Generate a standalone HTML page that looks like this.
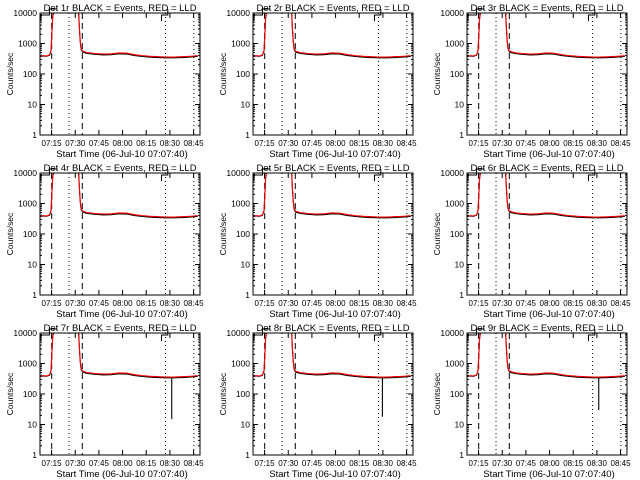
<!DOCTYPE html>
<html><head><meta charset="utf-8"><style>
html,body{margin:0;padding:0;background:#fff;}
svg{display:block;font-family:"Liberation Sans",sans-serif;}
</style></head><body>
<svg id="chart" width="640" height="480" viewBox="0 0 640 480"></svg>
<script>
// data
const detectors = ["1r","2r","3r","4r","5r","6r","7r","8r","9r"];
const times = [0,2,4,6,7,7.5,8,8.5,9,24.5,25,25.5,26,27,30,35,40,45,50,55,60,65,70,75,80,85,90,95,100];
const lldCounts = [380,400,390,420,600,2000,7000,12000,14000,14000,3000,1200,700,560,500,470,450,460,490,480,430,400,380,370,360,360,370,380,400];
const evtCounts = [370,390,380,410,580,1900,6800,12000,14000,14000,2900,1150,660,520,470,440,420,430,460,450,400,375,355,345,340,340,345,360,380];
const dipTime = [null,null,null,null,null,null,83.5,82,83.5];
const dipValue = [null,null,null,null,null,null,15,18,30];
const dashedTimes = [7.4,26.8];
const dottedTimes = [18.4,79.5,97.5];
const xTickLabels = ["07:15","07:30","07:45","08:00","08:15","08:30","08:45"];
const xTickMinutes = [7.33,22.33,37.33,52.33,67.33,82.33,97.33];
const yTickValues = [1,10,100,1000,10000];
const yTickLabels = ["1","10","100","1000","10000"];

const NS="http://www.w3.org/2000/svg";
const svg=document.getElementById('chart');
function mk(tag,attrs,parent){const e=document.createElementNS(NS,tag);for(const k in attrs)e.setAttribute(k,attrs[k]);(parent||svg).appendChild(e);return e;}
const BX0=40,BX1=200,BY0=13,BY1=135,TMAX=101.4;
detectors.forEach((d,i)=>{
  const ox=[0,213,427][i%3], oy=[0,160,320][Math.floor(i/3)];
  const g=mk('g',{transform:`translate(${ox},${oy})`});
  
  
  const X=t=>BX0+t/TMAX*(BX1-BX0);
  const Y=v=>{v=Math.max(1,Math.min(v,10000*1.02));return BY1-Math.log10(v)/4*(BY1-BY0);};
  const clip='clip'+i;
  const cp=mk('clipPath',{id:clip},g);mk('rect',{x:BX0,y:BY0,width:BX1-BX0,height:BY1-BY0},cp);
  dashedTimes.forEach(t=>{const l=mk('line',{x1:X(t),x2:X(t),y1:BY0,y2:BY1,stroke:'#000','stroke-dasharray':'6,4'},g);});
  dottedTimes.forEach(t=>{const l=mk('line',{x1:X(t),x2:X(t),y1:BY0,y2:BY1,stroke:'#000','stroke-dasharray':'1,3'},g);});
  let ev=times.map((t,k)=>[t,evtCounts[k]]);
  if(dipTime[i]!==null){ev=ev.filter(p=>p[0]<dipTime[i]);ev.push([dipTime[i],340],[dipTime[i],dipValue[i]],[dipTime[i],340]);times.forEach((t,k)=>{if(t>dipTime[i])ev.push([t,evtCounts[k]]);});}
  const pe=mk('polyline',{points:ev.map(p=>X(p[0])+','+Y(p[1])).join(' '),fill:'none',stroke:'#000','stroke-width':1.1,'clip-path':`url(#${clip})`},g);
  
  const pl=mk('polyline',{points:times.map((t,k)=>X(t)+','+Y(lldCounts[k])).join(' '),fill:'none',stroke:'#f00','stroke-width':1.1,'clip-path':`url(#${clip})`},g);
  
  const b1=mk('polyline',{points:`${X(0.5)},${BY0+8} ${X(0.5)},${BY0+2} ${X(6)},${BY0+2} ${X(6)},${BY0-4} ${X(11)},${BY0-4}`,fill:'none',stroke:'#000'},g);
  
  const b2=mk('polyline',{points:`${X(77)},${BY0+8} ${X(77)},${BY0+2} ${X(81)},${BY0+2} ${X(81)},${BY0-4}`,fill:'none',stroke:'#000'},g);
  
  const box=mk('rect',{x:BX0,y:BY0,width:BX1-BX0,height:BY1-BY0,fill:'none',stroke:'#000'},g);
  
  yTickValues.forEach((v,k)=>{
    const y=Y(v);
    mk('line',{x1:BX0,x2:BX0+5,y1:y,y2:y,stroke:'#000'},g);mk('line',{x1:BX1,x2:BX1-5,y1:y,y2:y,stroke:'#000'},g);
    for(let m=2;m<10&&v<10000;m++){const ym=Y(v*m);mk('line',{x1:BX0,x2:BX0+2,y1:ym,y2:ym,stroke:'#000'},g);mk('line',{x1:BX1,x2:BX1-2,y1:ym,y2:ym,stroke:'#000'},g);}
    const t=mk('text',{x:BX0-3,y:y+3,'text-anchor':'end','font-size':8.5},g);t.textContent=yTickLabels[k];
    
  });
  xTickMinutes.forEach((m,k)=>{
    const x=X(m);
    mk('line',{x1:x,x2:x,y1:BY1,y2:BY1-5,stroke:'#000'},g);mk('line',{x1:x,x2:x,y1:BY0,y2:BY0+5,stroke:'#000'},g);
    const t=mk('text',{x:x,y:BY1+11,'text-anchor':'middle','font-size':8},g);t.textContent=xTickLabels[k];
    
  });
  const tt=mk('text',{x:(BX0+BX1)/2,y:BY0-2,'text-anchor':'middle','font-size':9.5},g);tt.textContent=`Det ${d} BLACK = Events, RED = LLD`;
  
  const xt=mk('text',{x:(BX0+BX1)/2+2,y:BY1+22,'text-anchor':'middle','font-size':9.5},g);xt.textContent='Start Time (06-Jul-10 07:07:40)';
  
  const yt=mk('text',{x:0,y:0,'text-anchor':'middle','font-size':8.5,transform:`translate(13,${(BY0+BY1)/2}) rotate(-90)`},g);yt.textContent='Counts/sec';
  
});
</script>
</body></html>
